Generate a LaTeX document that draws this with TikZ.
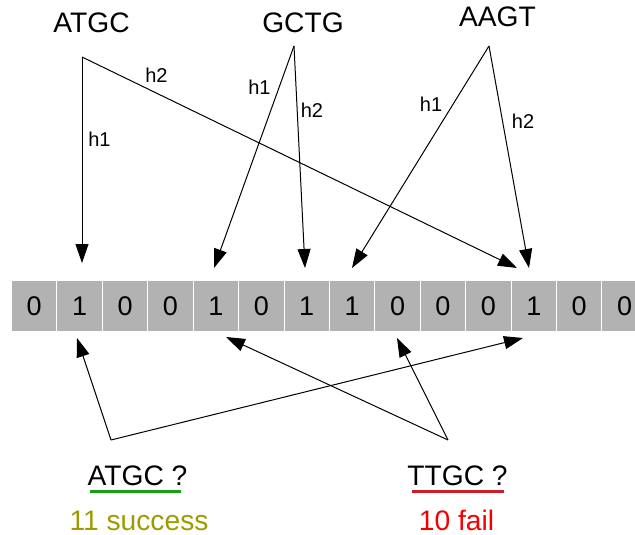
\documentclass[tikz,border=0pt]{standalone}
\usepackage{fontspec}
\setmainfont{Liberation Sans}
\usetikzlibrary{arrows.meta}
\definecolor{cellgray}{RGB}{178,178,178}
\definecolor{okgreen}{RGB}{24,158,24}
\definecolor{badred}{RGB}{204,30,40}
\definecolor{olivetext}{RGB}{156,156,0}
\definecolor{failtext}{RGB}{245,0,0}
\tikzset{
  cellbox/.style={fill=cellgray, minimum width=44.4pt, minimum height=50pt, inner sep=0pt, font=\fontsize{27}{32}\selectfont},
  bigtext/.style={font=\fontsize{28.2}{34}\selectfont, inner sep=0pt, anchor=base},
  hlabel/.style={font=\fontsize{20}{24}\selectfont, inner sep=0pt},
  link/.style={line width=1pt, -{Triangle[length=19pt,width=13pt]}},
  uline/.style={line width=3pt},
}
\begin{document}
\begin{tikzpicture}[x=1pt,y=-1pt]
\useasboundingbox (0,0) rectangle (635,535);
% bit array
\foreach \b [count=\i] in {0,1,0,0,1,0,1,1,0,0,0,1,0,0}
  \node[cellbox] (c\i) at ({34.2+(\i-1)*45.42},306) {\b};
% top keys
\node[bigtext] (k1) at (91.5,33) {ATGC};
\node[bigtext] (k2) at (303,33) {GCTG};
\node[bigtext] (k3) at (497.5,27) {AAGT};
% vertices
\coordinate (v1) at (82,57);
\coordinate (v2) at (294,46);
\coordinate (v3) at (489,46);
% targets above
\coordinate (t1) at (82,263);
\coordinate (t2) at (214,268);
\coordinate (t3) at (305,268);
\coordinate (t4) at (352,268);
\coordinate (t5) at (517,268);
\coordinate (t6) at (529,268);
\draw[link] (v1) -- (t1);
\draw[link] (v1) -- (t5);
\draw[link] (v2) -- (t2);
\draw[link] (v2) -- (t3);
\draw[link] (v3) -- (t4);
\draw[link] (v3) -- (t6);
% hash labels
\node[hlabel] (h11) at (99.5,139.5) {h1};
\node[hlabel] (h12) at (156.5,75.5) {h2};
\node[hlabel] (h21) at (259.5,87) {h1};
\node[hlabel] (h22) at (312,110) {h2};
\node[hlabel] (h31) at (431,104) {h1};
\node[hlabel] (h32) at (523,121) {h2};
% queries
\node[bigtext] (q1) at (137.5,485) {ATGC ?};
\node[bigtext] (q2) at (457.5,485) {TTGC ?};
\draw[uline, okgreen] (90,491) -- (181,491);
\draw[uline, badred] (412,491) -- (504,491);
\node[bigtext, text=olivetext] (r1) at (139,530) {11 success};
\node[bigtext, text=failtext] (r2) at (456.5,530) {10 fail};
% query vertices and targets
\coordinate (w1) at (111,440);
\coordinate (w2) at (448,440);
\coordinate (b1) at (77,338);
\coordinate (b2) at (523,338);
\coordinate (b3) at (397,338);
\coordinate (b4) at (226,337);
\draw[link] (w1) -- (b1);
\draw[link] (w1) -- (b2);
\draw[link] (w2) -- (b3);
\draw[link] (w2) -- (b4);
\end{tikzpicture}
\end{document}
